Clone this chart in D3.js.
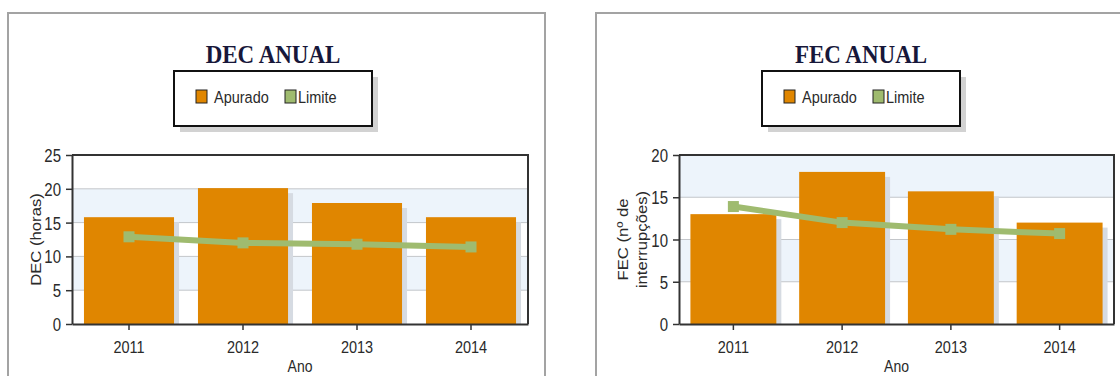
<!DOCTYPE html>
<html>
<head>
<meta charset="utf-8">
<script src="https://cdn.jsdelivr.net/npm/d3@7"></script>
<style>
  body { margin: 0; background: #fff; }
  svg { display: block; }
</style>
</head>
<body>
<svg id="chart" width="1120" height="376"></svg>
<script>
// Annual continuity indicators (DEC / FEC), measured vs. regulatory limit
const years = ["2011", "2012", "2013", "2014"];
const seriesNames = ["Apurado", "Limite"];

const decApurado = [15.8, 20.1, 17.9, 15.8];
const decLimite  = [12.9, 12.0, 11.8, 11.4];
const decTicks   = [0, 5, 10, 15, 20, 25];

const fecApurado = [13.0, 18.0, 15.7, 12.0];
const fecLimite  = [13.9, 12.0, 11.2, 10.7];
const fecTicks   = [0, 5, 10, 15, 20];

const BAR_COLOR = "#e08600";
const LINE_COLOR = "#9fbb6f";
const BAND_COLOR = "#edf4fb";
const TEXT_COLOR = "#2a2a2a";
const SANS = "'Liberation Sans', Arial, sans-serif";
const STRETCH = 1.2;

const svg = d3.select("#chart");

// text drawn slightly taller than wide, like the chart engine's rendering
function sText(parent, x, y, str, size, anchor) {
  return parent.append("text")
    .attr("transform", `translate(${x},${y}) scale(1,${STRETCH})`)
    .attr("text-anchor", anchor || "start")
    .attr("font-family", SANS)
    .attr("font-size", size)
    .attr("fill", TEXT_COLOR)
    .text(str);
}

function drawPanel(o) {
  const g = svg.append("g");
  const top = 155, bottom = 324;

  // outer frame
  g.append("rect")
    .attr("x", o.frameX).attr("y", 13)
    .attr("width", o.frameW).attr("height", 420)
    .attr("fill", "#fff").attr("stroke", "#a3a3a3").attr("stroke-width", 2);

  // title
  g.append("text")
    .attr("transform", `translate(${o.cx},63) scale(1,1.1)`)
    .attr("text-anchor", "middle")
    .attr("font-family", "'Liberation Serif', 'Times New Roman', serif")
    .attr("font-weight", "bold")
    .attr("font-size", 23)
    .attr("fill", "#17173a")
    .text(o.title);

  // legend box with drop shadow
  const lx = o.legendX, ly = 71, lw = 198, lh = 55;
  g.append("rect").attr("x", lx + 6).attr("y", ly + 6).attr("width", lw).attr("height", lh)
    .attr("fill", "#d2d2d2");
  g.append("rect").attr("x", lx).attr("y", ly).attr("width", lw).attr("height", lh)
    .attr("fill", "#fff").attr("stroke", "#111").attr("stroke-width", 2);
  const legendItems = [
    { name: seriesNames[0], color: BAR_COLOR, sx: 22, tx: 40 },
    { name: seriesNames[1], color: LINE_COLOR, sx: 111, tx: 124 }
  ];
  legendItems.forEach(it => {
    g.append("rect").attr("x", lx + it.sx).attr("y", ly + 19).attr("width", 11).attr("height", 13)
      .attr("fill", it.color).attr("stroke", "#222").attr("stroke-width", 1);
    sText(g, lx + it.tx, ly + 32, it.name, 14.5);
  });

  // scales
  const x = d3.scaleBand().domain(years).range([o.left, o.right])
    .paddingInner(0.21).paddingOuter(0.105);
  const y = d3.scaleLinear().domain([0, o.max]).range([bottom, top]);
  const bw = x.bandwidth();

  // alternating background bands
  const bandStarts = d3.range(0, o.max, 5);
  g.selectAll(".band").data(bandStarts).join("rect")
    .attr("x", o.left).attr("width", o.right - o.left)
    .attr("y", d => y(d + 5)).attr("height", d => y(d) - y(d + 5))
    .attr("fill", d => (d / 5) % 2 === 1 ? BAND_COLOR : "#fff");

  // horizontal gridlines
  g.selectAll(".grid").data(o.ticks.filter(t => t > 0 && t < o.max)).join("line")
    .attr("x1", o.left).attr("x2", o.right)
    .attr("y1", d => y(d)).attr("y2", d => y(d))
    .attr("stroke", "#c3c6ca").attr("stroke-width", 1);

  // bar shadows
  g.selectAll(".shadow").data(o.apurado).join("rect")
    .attr("x", (d, i) => x(years[i]) + 5)
    .attr("y", d => y(d) + 5)
    .attr("width", bw)
    .attr("height", d => Math.max(0, bottom - y(d) - 5))
    .attr("fill", "#d6dbe2");

  // bars
  g.selectAll(".bar").data(o.apurado).join("rect")
    .attr("x", (d, i) => x(years[i]))
    .attr("y", d => y(d))
    .attr("width", bw)
    .attr("height", d => bottom - y(d))
    .attr("fill", BAR_COLOR);

  // limit line with square markers
  const pts = o.limite.map((v, i) => [x(years[i]) + bw / 2, y(v)]);
  g.append("path")
    .attr("d", d3.line()(pts))
    .attr("fill", "none").attr("stroke", LINE_COLOR)
    .attr("stroke-width", 6).attr("stroke-linejoin", "round");
  g.selectAll(".mk").data(pts).join("rect")
    .attr("x", d => d[0] - 5.5).attr("y", d => d[1] - 5.5)
    .attr("width", 11).attr("height", 11)
    .attr("fill", LINE_COLOR);

  // plot frame (top and right)
  g.append("path")
    .attr("d", `M${o.left},${top}H${o.right}V${bottom}`)
    .attr("fill", "none").attr("stroke", "#333").attr("stroke-width", 2);

  // y axis
  const ya = g.append("g").attr("transform", `translate(${o.left},0)`)
    .call(d3.axisLeft(y).tickValues(o.ticks).tickSize(6).tickSizeOuter(0));
  ya.select(".domain").attr("stroke", "#333").attr("stroke-width", 2);
  ya.selectAll(".tick line").attr("stroke", "#333").attr("stroke-width", 1.5);
  ya.selectAll(".tick text")
    .attr("x", null).attr("y", null).attr("dy", null)
    .attr("transform", `translate(-11,6.5) scale(1,${STRETCH})`)
    .attr("font-family", SANS).attr("font-size", 15).attr("fill", TEXT_COLOR);

  // x axis
  const xa = g.append("g").attr("transform", `translate(0,${bottom})`)
    .call(d3.axisBottom(x).tickSize(6).tickSizeOuter(0));
  xa.select(".domain").attr("stroke", "#333").attr("stroke-width", 2);
  xa.selectAll(".tick line").attr("stroke", "#333").attr("stroke-width", 1.5);
  xa.selectAll(".tick text")
    .attr("y", null).attr("dy", null)
    .attr("transform", `translate(0,29) scale(1,${STRETCH})`)
    .attr("font-family", SANS).attr("font-size", 14.5).attr("fill", TEXT_COLOR);

  // axis titles
  sText(g, (o.left + o.right) / 2, 372, "Ano", 14, "middle");
  const midY = (top + bottom) / 2;
  o.yTitle.forEach((line, i) => {
    g.append("text")
      .attr("transform", `translate(${o.yTitleX[i]},${midY}) rotate(-90) scale(1.15,1)`)
      .attr("text-anchor", "middle")
      .attr("font-family", SANS).attr("font-size", 14.5)
      .attr("fill", TEXT_COLOR)
      .text(line);
  });
}

drawPanel({
  title: "DEC ANUAL", frameX: 8, frameW: 537, cx: 273, legendX: 174,
  left: 72, right: 528, max: 25, ticks: decTicks,
  apurado: decApurado, limite: decLimite,
  yTitle: ["DEC (horas)"], yTitleX: [41]
});

drawPanel({
  title: "FEC ANUAL", frameX: 596, frameW: 600, cx: 861, legendX: 762,
  left: 679, right: 1114, max: 20, ticks: fecTicks,
  apurado: fecApurado, limite: fecLimite,
  yTitle: ["FEC (nº de", "interrupções)"], yTitleX: [628, 647]
});
</script>
</body>
</html>
